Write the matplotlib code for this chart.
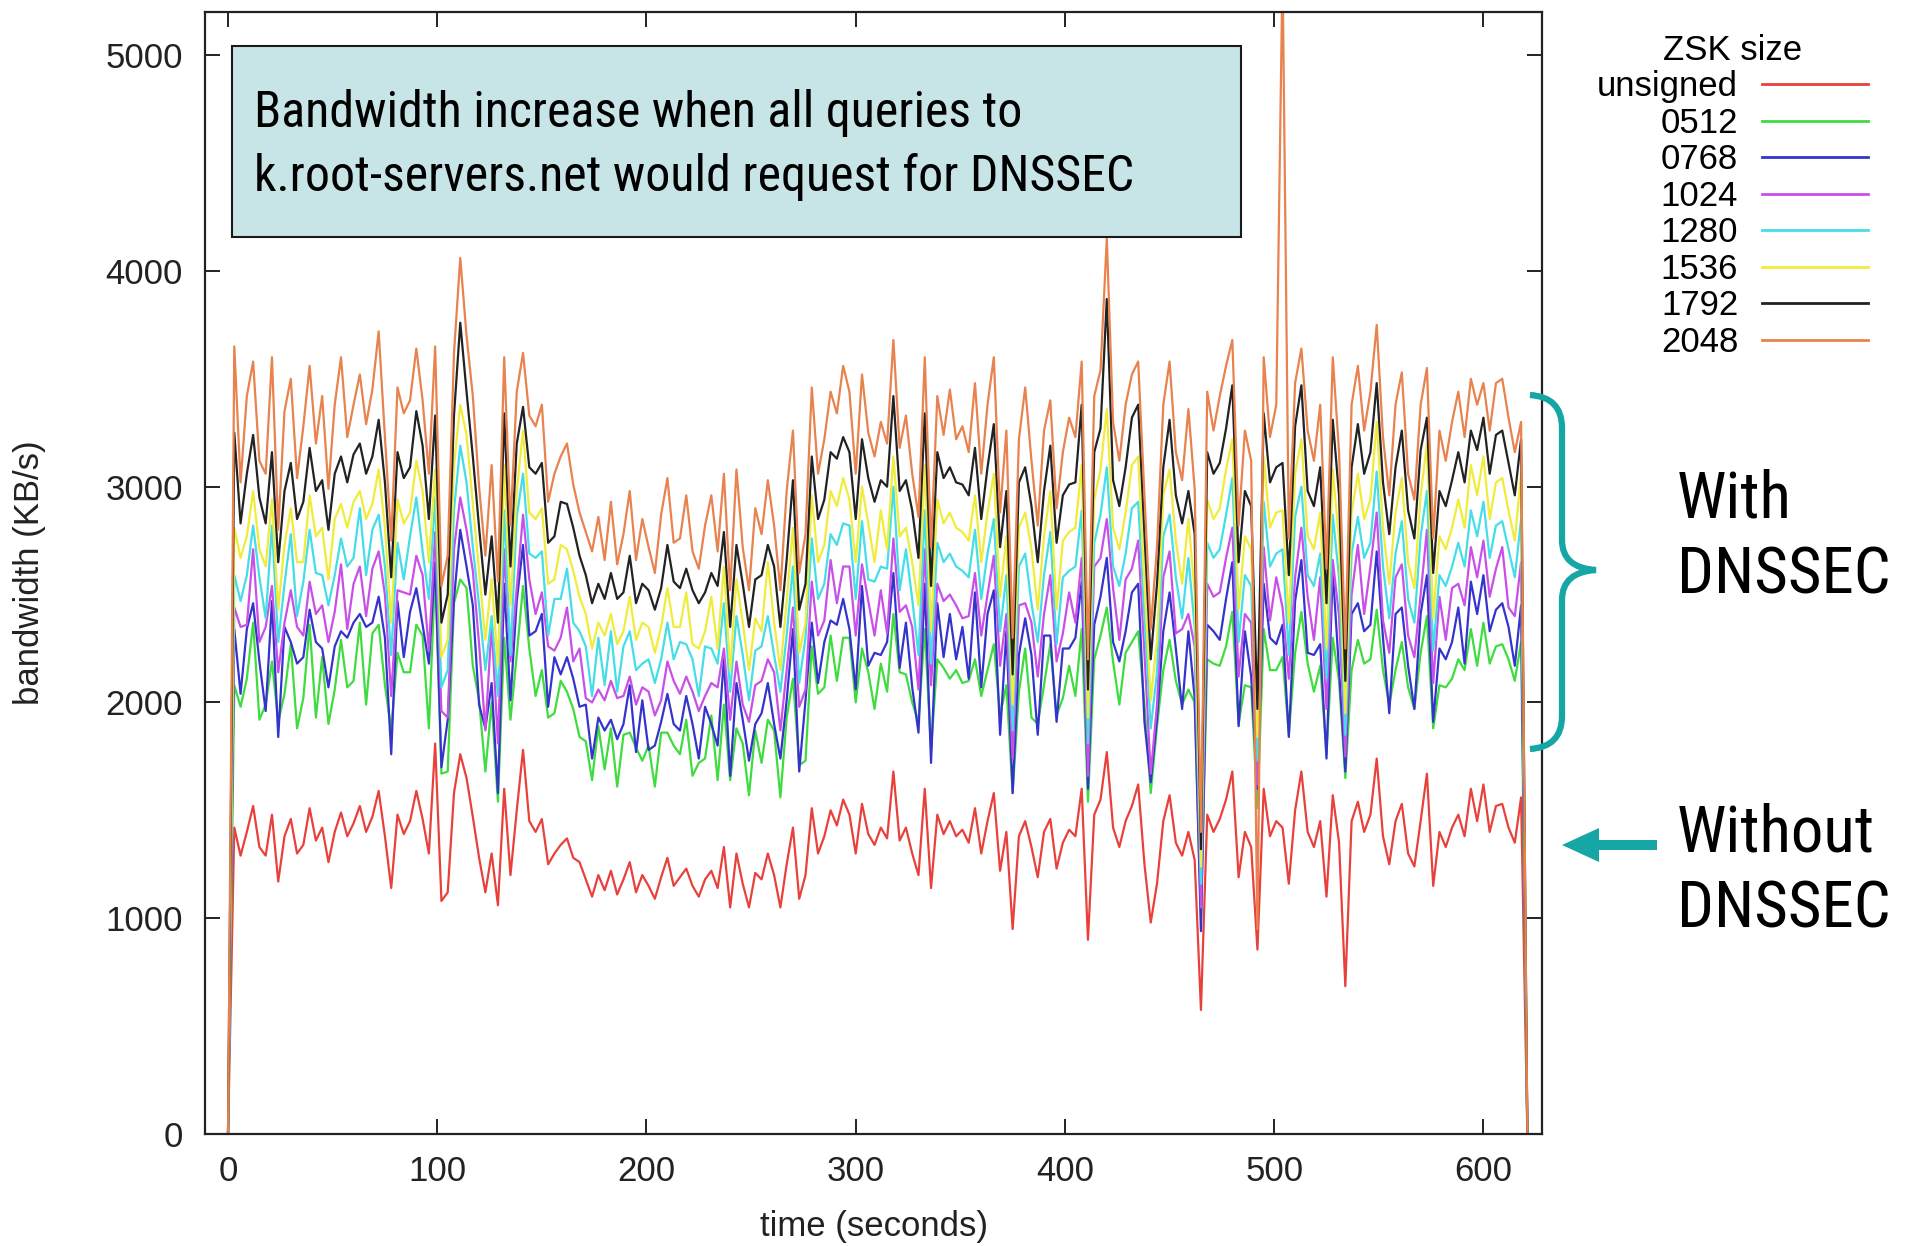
import numpy as np
import matplotlib
matplotlib.use("Agg")
import matplotlib.pyplot as plt
from matplotlib import font_manager
from matplotlib.font_manager import FontProperties
from matplotlib.path import Path
from matplotlib.patches import PathPatch, Rectangle, FancyArrow

W, H = 1916, 1246

# ---------------- data (KB/s, one sample every 3 seconds) ----------------
time_step_s = 3
series_labels = ["unsigned", "0512", "0768", "1024", "1280", "1536", "1792", "2048"]
series_colors = ["#e8413c", "#3fdc3f", "#3434cc", "#c850e8", "#45dde8", "#f0ec3c", "#222222", "#e8824e"]

unsigned = [
    0, 1420, 1290, 1400, 1520, 1330, 1290, 1480, 1170, 1380,
    1460, 1300, 1340, 1510, 1360, 1420, 1260, 1400, 1490, 1380,
    1440, 1520, 1400, 1470, 1590, 1380, 1140, 1480, 1390, 1450,
    1590, 1460, 1300, 1810, 1080, 1120, 1580, 1760, 1650, 1470,
    1280, 1120, 1300, 1060, 1600, 1200, 1500, 1780, 1450, 1400,
    1460, 1250, 1300, 1340, 1370, 1280, 1260, 1180, 1100, 1200,
    1130, 1220, 1110, 1180, 1260, 1120, 1200, 1150, 1090, 1190,
    1280, 1150, 1190, 1230, 1150, 1100, 1180, 1220, 1140, 1330,
    1050, 1300, 1160, 1050, 1210, 1180, 1300, 1200, 1050, 1250,
    1420, 1090, 1200, 1510, 1300, 1380, 1500, 1430, 1550, 1480,
    1300, 1530, 1390, 1340, 1420, 1370, 1680, 1360, 1420, 1300,
    1200, 1600, 1140, 1480, 1390, 1450, 1380, 1410, 1350, 1510,
    1300, 1450, 1580, 1220, 1400, 950, 1380, 1450, 1330, 1190,
    1400, 1460, 1230, 1350, 1410, 1380, 1600, 900, 1480, 1550,
    1770, 1420, 1330, 1450, 1520, 1620, 1250, 980, 1160, 1450,
    1570, 1350, 1290, 1400, 1270, 575, 1480, 1400, 1460, 1550,
    1680, 1190, 1400, 1330, 855, 1600, 1380, 1450, 1420, 1160,
    1500, 1680, 1400, 1330, 1450, 1100, 1570, 1350, 685, 1450,
    1540, 1400, 1480, 1740, 1380, 1250, 1450, 1530, 1300, 1240,
    1450, 1670, 1150, 1400, 1330, 1420, 1480, 1380, 1600, 1450,
    1620, 1400, 1520, 1530, 1420, 1350, 1560, 0,
]

zsk_0512 = [
    0, 2080, 1980, 2110, 2370, 1920, 1990, 2190, 1910, 2040,
    2270, 1880, 2020, 2360, 1930, 2210, 1900, 2060, 2290, 2070,
    2100, 2370, 1990, 2320, 2360, 2080, 1870, 2230, 2140, 2140,
    2360, 2310, 1880, 2600, 1670, 1680, 2460, 2570, 2530, 2170,
    2010, 1680, 2000, 1540, 2300, 1920, 2220, 2540, 2250, 2030,
    2150, 1930, 1950, 2100, 2050, 1970, 1840, 1820, 1640, 1890,
    1690, 1880, 1610, 1850, 1860, 1790, 1730, 1800, 1610, 1860,
    1860, 1800, 1760, 1920, 1660, 1720, 1740, 1940, 1640, 1990,
    1640, 1880, 1810, 1570, 1870, 1720, 1920, 1870, 1560, 1930,
    2110, 1710, 1730, 2260, 2040, 2070, 2310, 2100, 2300, 2300,
    2000, 2250, 2140, 1970, 2180, 2050, 2410, 2140, 2130, 2000,
    1910, 2340, 1780, 2200, 2160, 2110, 2150, 2090, 2100, 2200,
    2030, 2150, 2270, 1940, 2080, 1580, 2050, 2250, 1930, 1900,
    2080, 2270, 1940, 2020, 2170, 2030, 2340, 1540, 2200, 2310,
    2440, 2190, 1990, 2230, 2280, 2330, 1990, 1580, 1890, 2150,
    2290, 2100, 1990, 2060, 2000, 1000, 2200, 2180, 2170, 2260,
    2420, 1900, 2080, 2070, 1510, 2340, 2150, 2150, 2210, 1850,
    2230, 2420, 2180, 2050, 2170, 1760, 2300, 2100, 1650, 2150,
    2290, 2180, 2200, 2430, 2150, 1990, 2150, 2280, 2070, 1970,
    2230, 2400, 1880, 2080, 2070, 2110, 2200, 2150, 2340, 2170,
    2370, 2180, 2260, 2270, 2200, 2100, 2280, 0,
]

zsk_0768 = [
    0, 2340, 2040, 2340, 2460, 2190, 1960, 2470, 1840, 2350,
    2280, 2180, 2210, 2430, 2280, 2250, 2070, 2260, 2330, 2300,
    2370, 2410, 2350, 2370, 2490, 2300, 1760, 2470, 2210, 2420,
    2530, 2360, 2180, 2650, 1700, 1920, 2480, 2800, 2630, 2450,
    1990, 1880, 2090, 1580, 2550, 2010, 2470, 2730, 2310, 2330,
    2410, 1980, 2210, 2130, 2210, 2110, 1980, 1990, 1740, 1930,
    1870, 1920, 1830, 1900, 2080, 1770, 2010, 1780, 1800, 1910,
    2040, 1900, 1870, 2030, 1900, 1740, 1980, 1900, 1800, 2200,
    1660, 2090, 1920, 1730, 1900, 1950, 2090, 1900, 1740, 2010,
    2340, 1680, 2010, 2370, 2090, 2280, 2380, 2360, 2480, 2340,
    2060, 2540, 2170, 2230, 2220, 2280, 2600, 2160, 2370, 2070,
    1860, 2550, 1720, 2460, 2210, 2410, 2200, 2350, 2110, 2510,
    2070, 2410, 2520, 1850, 2330, 1580, 2220, 2390, 2220, 1850,
    2310, 2310, 1910, 2250, 2250, 2300, 2560, 1600, 2360, 2490,
    2670, 2280, 2190, 2330, 2510, 2550, 1910, 1630, 1920, 2330,
    2510, 2250, 1970, 2330, 2020, 940, 2360, 2330, 2290, 2480,
    2650, 1890, 2330, 2120, 1600, 2550, 2300, 2270, 2360, 1840,
    2470, 2660, 2230, 2220, 2270, 1740, 2610, 2150, 1680, 2410,
    2460, 2330, 2360, 2700, 2300, 1950, 2410, 2440, 2170, 1970,
    2410, 2590, 1910, 2250, 2200, 2280, 2440, 2180, 2560, 2410,
    2590, 2330, 2430, 2460, 2350, 2170, 2450, 0,
]

zsk_1024 = [
    0, 2440, 2350, 2360, 2710, 2280, 2350, 2540, 2140, 2370,
    2520, 2350, 2310, 2560, 2410, 2450, 2280, 2420, 2640, 2340,
    2550, 2630, 2400, 2620, 2700, 2500, 2030, 2520, 2510, 2500,
    2680, 2590, 2240, 2790, 1960, 1930, 2710, 2950, 2800, 2610,
    2270, 1870, 2360, 1810, 2710, 2190, 2530, 2870, 2570, 2410,
    2510, 2260, 2240, 2300, 2440, 2190, 2250, 2020, 2000, 2060,
    2010, 2100, 2020, 2030, 2120, 1990, 2070, 2050, 1940, 2010,
    2190, 2100, 2040, 2120, 2050, 1960, 2030, 2090, 2070, 2250,
    1920, 2190, 1990, 1910, 2080, 2100, 2200, 2140, 1870, 2150,
    2440, 1980, 2060, 2560, 2310, 2380, 2660, 2460, 2630, 2630,
    2310, 2640, 2470, 2310, 2520, 2320, 2760, 2420, 2450, 2350,
    2060, 2710, 2080, 2550, 2470, 2500, 2450, 2390, 2400, 2600,
    2310, 2500, 2680, 2170, 2410, 1740, 2450, 2460, 2370, 2120,
    2410, 2590, 2190, 2320, 2510, 2370, 2670, 1660, 2630, 2670,
    2850, 2530, 2290, 2570, 2620, 2750, 2230, 1670, 1990, 2580,
    2700, 2320, 2340, 2410, 2260, 1050, 2550, 2490, 2510, 2670,
    2810, 2120, 2410, 2370, 1620, 2720, 2380, 2580, 2440, 2110,
    2580, 2810, 2490, 2290, 2580, 1970, 2660, 2400, 1750, 2500,
    2730, 2410, 2630, 2880, 2380, 2230, 2580, 2640, 2310, 2210,
    2500, 2800, 2090, 2490, 2290, 2530, 2550, 2450, 2720, 2580,
    2750, 2490, 2620, 2720, 2440, 2400, 2650, 0,
]

zsk_1280 = [
    0, 2590, 2470, 2590, 2820, 2580, 2390, 2820, 2280, 2550,
    2780, 2400, 2560, 2800, 2600, 2590, 2450, 2590, 2760, 2630,
    2670, 2900, 2590, 2800, 2870, 2630, 2220, 2740, 2570, 2770,
    2950, 2700, 2480, 2950, 2070, 2150, 2890, 3190, 3020, 2720,
    2450, 2150, 2400, 2030, 2890, 2220, 2860, 3060, 2690, 2670,
    2700, 2310, 2480, 2480, 2620, 2370, 2330, 2260, 2030, 2300,
    2080, 2330, 2050, 2260, 2330, 2150, 2180, 2200, 2090, 2200,
    2370, 2200, 2280, 2270, 2200, 2030, 2260, 2250, 2180, 2460,
    2050, 2400, 2220, 2010, 2240, 2260, 2400, 2220, 2050, 2310,
    2630, 2090, 2300, 2760, 2480, 2550, 2780, 2730, 2830, 2820,
    2480, 2840, 2570, 2560, 2630, 2620, 3000, 2520, 2710, 2480,
    2220, 2890, 2180, 2740, 2650, 2690, 2630, 2610, 2580, 2800,
    2480, 2690, 2850, 2330, 2590, 1870, 2630, 2690, 2460, 2280,
    2590, 2790, 2270, 2580, 2610, 2630, 2890, 1810, 2740, 2870,
    3090, 2630, 2540, 2690, 2900, 2930, 2390, 1880, 2140, 2770,
    2870, 2580, 2390, 2670, 2350, 1160, 2740, 2670, 2710, 2870,
    3040, 2280, 2590, 2540, 1730, 2930, 2630, 2690, 2710, 2220,
    2860, 3000, 2590, 2540, 2690, 2110, 2870, 2580, 1850, 2690,
    2860, 2670, 2740, 3070, 2630, 2390, 2690, 2840, 2480, 2370,
    2770, 2980, 2240, 2590, 2540, 2630, 2740, 2630, 2890, 2770,
    2930, 2670, 2820, 2840, 2710, 2580, 2850, 0,
]

zsk_1536 = [
    0, 2810, 2670, 2770, 2980, 2710, 2630, 2940, 2430, 2730,
    2900, 2650, 2650, 2960, 2770, 2810, 2570, 2850, 2920, 2810,
    2930, 2980, 2850, 2920, 3080, 2810, 2370, 2940, 2830, 2880,
    3120, 2980, 2650, 3080, 2210, 2290, 3100, 3380, 3240, 2920,
    2610, 2290, 2570, 2170, 3100, 2450, 2980, 3260, 2880, 2850,
    2900, 2550, 2570, 2730, 2710, 2610, 2490, 2410, 2250, 2370,
    2310, 2410, 2270, 2330, 2490, 2290, 2370, 2350, 2230, 2350,
    2530, 2350, 2350, 2510, 2270, 2250, 2330, 2490, 2250, 2630,
    2150, 2570, 2370, 2150, 2390, 2330, 2650, 2370, 2150, 2470,
    2810, 2230, 2370, 2960, 2650, 2730, 2980, 2910, 3040, 2940,
    2650, 3000, 2830, 2650, 2890, 2710, 3140, 2770, 2810, 2650,
    2450, 3100, 2330, 2940, 2830, 2880, 2810, 2790, 2750, 2960,
    2650, 2880, 3060, 2490, 2770, 1990, 2810, 2880, 2710, 2430,
    2770, 2980, 2430, 2750, 2790, 2810, 3100, 1930, 2940, 3080,
    3360, 2810, 2710, 2880, 3100, 3140, 2550, 2010, 2290, 2960,
    3080, 2750, 2550, 2850, 2510, 1240, 2940, 2850, 2900, 3080,
    3220, 2430, 2770, 2710, 1840, 3140, 2810, 2880, 2890, 2370,
    3060, 3220, 2770, 2710, 2880, 2250, 3080, 2750, 1950, 2880,
    3060, 2850, 2940, 3300, 2810, 2550, 2880, 3040, 2650, 2530,
    2960, 3200, 2390, 2770, 2710, 2810, 2940, 2810, 3100, 2960,
    3140, 2850, 3020, 3040, 2890, 2750, 3060, 0,
]

zsk_1792 = [
    0, 3250, 2830, 3060, 3240, 2950, 2830, 3160, 2650, 2980,
    3110, 2850, 2930, 3180, 2980, 3030, 2800, 3060, 3140, 3020,
    3150, 3200, 3060, 3140, 3310, 3020, 2580, 3160, 3040, 3090,
    3350, 3190, 2850, 3330, 2370, 2500, 3330, 3760, 3440, 3140,
    2810, 2500, 2770, 2370, 3340, 2630, 3200, 3370, 3090, 3060,
    3110, 2740, 2770, 2930, 2920, 2810, 2680, 2590, 2460, 2550,
    2480, 2600, 2480, 2510, 2680, 2460, 2550, 2520, 2430, 2530,
    2730, 2560, 2530, 2620, 2520, 2460, 2510, 2600, 2540, 2790,
    2350, 2730, 2550, 2350, 2570, 2590, 2730, 2630, 2350, 2660,
    3030, 2430, 2550, 3140, 2850, 2940, 3160, 3130, 3230, 3160,
    2850, 3220, 3040, 2930, 3030, 3000, 3420, 2980, 3030, 2890,
    2670, 3340, 2540, 3160, 3040, 3090, 3020, 3010, 2960, 3180,
    2850, 3090, 3290, 2720, 2980, 2130, 3020, 3090, 2910, 2650,
    2980, 3190, 2740, 2960, 3010, 3020, 3380, 2060, 3160, 3270,
    3870, 3030, 2910, 3090, 3320, 3380, 2780, 2200, 2550, 3090,
    3310, 2960, 2830, 2980, 2780, 1320, 3160, 3060, 3110, 3270,
    3470, 2650, 2980, 2910, 1970, 3340, 3020, 3090, 3110, 2590,
    3280, 3470, 2980, 2910, 3090, 2460, 3310, 2960, 2100, 3090,
    3290, 3060, 3160, 3480, 3020, 2780, 3090, 3260, 2890, 2760,
    3170, 3320, 2600, 2980, 2910, 3030, 3160, 3020, 3260, 3170,
    3320, 3060, 3240, 3260, 3110, 2960, 3220, 0,
]

zsk_2048 = [
    0, 3650, 3020, 3420, 3580, 3120, 3060, 3600, 2800, 3350,
    3500, 3040, 3280, 3560, 3200, 3420, 2990, 3380, 3600, 3230,
    3380, 3520, 3290, 3450, 3720, 3230, 2750, 3460, 3340, 3400,
    3640, 3400, 3060, 3650, 2540, 2680, 3620, 4060, 3700, 3420,
    3000, 2680, 3100, 2560, 3600, 2820, 3440, 3620, 3330, 3280,
    3380, 2930, 3060, 3140, 3200, 3010, 2880, 2790, 2700, 2860,
    2660, 2930, 2640, 2780, 2980, 2660, 2850, 2720, 2600, 2870,
    3040, 2740, 2760, 2960, 2700, 2620, 2820, 2960, 2700, 3060,
    2520, 3080, 2720, 2520, 2900, 2780, 3030, 2820, 2520, 2980,
    3260, 2600, 2780, 3460, 3060, 3220, 3440, 3340, 3560, 3440,
    3060, 3520, 3250, 3140, 3300, 3200, 3680, 3180, 3330, 3060,
    2860, 3600, 2720, 3420, 3240, 3450, 3220, 3280, 3160, 3480,
    3060, 3380, 3600, 2880, 3260, 2300, 3220, 3460, 3120, 2820,
    3260, 3400, 2900, 3160, 3320, 3230, 3580, 2200, 3420, 3540,
    4150, 3300, 3120, 3380, 3520, 3580, 2960, 2340, 2720, 3380,
    3580, 3160, 3030, 3360, 2990, 1400, 3440, 3260, 3420, 3560,
    3680, 2820, 3260, 3120, 950, 3600, 3230, 3380, 5400, 2760,
    3480, 3640, 3260, 3120, 3380, 2620, 3600, 3160, 2250, 3380,
    3560, 3260, 3440, 3750, 3230, 2960, 3380, 3530, 3060, 2940,
    3380, 3550, 2760, 3260, 3120, 3300, 3440, 3230, 3500, 3380,
    3480, 3260, 3480, 3500, 3320, 3160, 3300, 0,
]

all_series = [unsigned, zsk_0512, zsk_0768, zsk_1024, zsk_1280, zsk_1536, zsk_1792, zsk_2048]

x_ticks = [0, 100, 200, 300, 400, 500, 600]
y_ticks = [0, 1000, 2000, 3000, 4000, 5000]

box_lines = ["Bandwidth increase when all queries to",
             "k.root-servers.net would request for DNSSEC"]
side_lines = [("With", 518), ("DNSSEC", 593), ("Without", 851), ("DNSSEC", 927)]

# ---------------- fonts ----------------
ttf = font_manager.fontManager.ttflist
names = {f.name for f in ttf}
base_font = "Liberation Sans" if "Liberation Sans" in names else "DejaVu Sans"
plt.rcParams["font.family"] = [base_font, "DejaVu Sans"]

def find_narrow():
    pref = ["Liberation Sans Narrow", "Arial Narrow", "Roboto Condensed",
            "Open Sans Condensed", "Noto Sans Condensed", "DejaVu Sans Condensed"]
    cands = []
    for f in ttf:
        nm = f.name
        narrowish = ("Narrow" in nm or "Condensed" in nm or
                     str(f.stretch) in ("condensed", "semi-condensed"))
        if narrowish and f.style == "normal" and str(f.weight) in ("400", "normal", "regular"):
            rank = pref.index(nm) if nm in pref else len(pref)
            cands.append((rank, f.fname))
    if cands:
        cands.sort()
        return FontProperties(fname=cands[0][1])
    return FontProperties(family=base_font)

narrow_fp = find_narrow()

# ---------------- figure ----------------
fig = plt.figure(figsize=(W / 100, H / 100), dpi=100)
ax = fig.add_axes([205 / W, 1 - 1134 / H, (1542 - 205) / W, (1134 - 12) / H])

for vals, lab, col in zip(all_series, series_labels, series_colors):
    t = np.arange(len(vals)) * time_step_s
    ax.plot(t, vals, color=col, lw=1.6, label=lab)

ax.set_xlim(-11, 628)
ax.set_ylim(0, 5200)
ax.set_xticks(x_ticks)
ax.set_yticks(y_ticks)
ax.tick_params(direction="in", length=11, width=1.4, top=True, right=True,
               labelsize=25, colors="#222222")
ax.tick_params(axis="x", pad=15)
ax.tick_params(axis="y", pad=16)
for s in ax.spines.values():
    s.set_linewidth(1.6)
    s.set_color("#222222")

ax.set_xlabel("time (seconds)", fontsize=25, color="#222222")
ax.set_ylabel("bandwidth (KB/s)", fontsize=25, color="#222222")
ax.xaxis.set_label_coords(0.5, -0.068)
ax.yaxis.set_label_coords(-0.119, 0.5)

leg = ax.legend(loc="upper right", bbox_to_anchor=(1868 / W, 1 - 34 / H),
                bbox_transform=fig.transFigure, markerfirst=False, frameon=False,
                title="ZSK size", fontsize=25, title_fontsize=25,
                handlelength=3.05, handletextpad=0.69, labelspacing=0.1,
                borderpad=0, borderaxespad=0)
for ln in leg.get_lines():
    ln.set_linewidth(2.0)

# ---------------- annotations (pixel coordinates -> inches) ----------------
T = fig.dpi_scale_trans
def P(x, y):
    return (x / 100.0, (H - y) / 100.0)

teal = "#17a6a6"
renderer = fig.canvas.get_renderer()

def fitted_texts(items, fit_index, target_w, start_fs):
    texts = []
    for (s, x, y) in items:
        tx = fig.text(*P(x, y), s, transform=T, fontproperties=narrow_fp.copy(),
                      va="baseline", ha="left", color="black")
        tx.set_fontsize(start_fs)
        texts.append(tx)
    w = texts[fit_index].get_window_extent(renderer).width
    fs = start_fs * target_w / w
    for tx in texts:
        tx.set_fontsize(fs)
    return texts

box = Rectangle(P(232, 237), (1241 - 232) / 100.0, (237 - 46) / 100.0,
                transform=T, facecolor="#c7e4e6", edgecolor="#1a1a1a", lw=1.5)
fig.add_artist(box)
fitted_texts([(box_lines[0], 254, 127), (box_lines[1], 254, 191)], 1, 880, 36)

verts = [P(1530, 395), P(1562, 397), P(1562, 428), P(1562, 540),
         P(1562, 568), P(1596, 570), P(1562, 572), P(1562, 600),
         P(1562, 716), P(1562, 747), P(1530, 749)]
codes = [Path.MOVETO, Path.CURVE3, Path.CURVE3, Path.LINETO,
         Path.CURVE3, Path.CURVE3, Path.CURVE3, Path.CURVE3,
         Path.LINETO, Path.CURVE3, Path.CURVE3]
fig.add_artist(PathPatch(Path(verts, codes), transform=T, facecolor="none",
                         edgecolor=teal, lw=4.5, capstyle="butt"))

x0, y0 = P(1657, 845)
x1, _ = P(1562, 845)
fig.add_artist(FancyArrow(x0, y0, x1 - x0, 0, width=0.10, head_width=0.34,
                          head_length=0.37, length_includes_head=True,
                          transform=T, color=teal, lw=0))

fitted_texts([(s, 1677, y) for s, y in side_lines], 1, 213, 44)

fig.savefig("out.png", dpi=100)
